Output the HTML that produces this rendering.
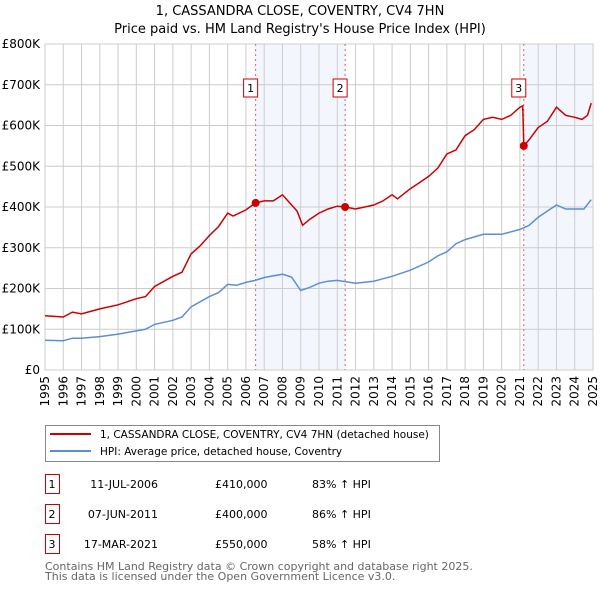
<!DOCTYPE html>
<html><head><meta charset="utf-8"><style>
body{margin:0;background:#fff;font-family:"DejaVu Sans","Liberation Sans",sans-serif;}
svg text{font-family:"DejaVu Sans","Liberation Sans",sans-serif;}
</style></head><body>
<svg id="chart" width="600" height="590" xmlns="http://www.w3.org/2000/svg">
<text x="300" y="15" text-anchor="middle" font-size="13">1, CASSANDRA CLOSE, COVENTRY, CV4 7HN</text>
<text x="300" y="33" text-anchor="middle" font-size="13">Price paid vs. HM Land Registry's House Price Index (HPI)</text>
<g id="plot"></g>
<g>
<rect x="45.5" y="425.5" width="394" height="36" fill="#fff" stroke="#888"/>
<line x1="50" y1="434" x2="91" y2="434" stroke="#cc0000" stroke-width="2"/>
<text x="100" y="438" font-size="10.5">1, CASSANDRA CLOSE, COVENTRY, CV4 7HN (detached house)</text>
<line x1="50" y1="451" x2="91" y2="451" stroke="#5b8fd4" stroke-width="2"/>
<text x="100" y="455" font-size="10.5">HPI: Average price, detached house, Coventry</text>
</g>
<g id="table"></g>
<text x="45" y="570" font-size="11" fill="#666">Contains HM Land Registry data © Crown copyright and database right 2025.</text>
<text x="45" y="580" font-size="11" fill="#666">This data is licensed under the Open Government Licence v3.0.</text>
</svg>
<script>
const redYears=[1995,1996,1996.5,1997,1998,1999,2000,2000.5,2001,2002,2002.5,2003,2003.5,2004,2004.5,2005,2005.3,2006,2006.53,2007,2007.5,2008,2008.3,2008.8,2009.1,2009.5,2010,2010.5,2011,2011.43,2012,2012.5,2013,2013.5,2014,2014.3,2015,2015.5,2016,2016.5,2017,2017.5,2018,2018.5,2019,2019.5,2020,2020.5,2021,2021.15,2021.21,2021.5,2022,2022.5,2023,2023.5,2024,2024.4,2024.7,2024.9];
const redValues=[133,130,142,138,150,160,175,180,205,230,240,285,305,330,352,385,378,393,410,415,415,430,415,390,355,370,385,395,402,400,395,400,405,415,430,420,445,460,475,495,530,540,575,590,615,620,615,625,645,648,550,565,595,610,645,625,620,615,625,655];
const hpiYears=[1995,1996,1996.5,1997,1998,1999,2000,2000.5,2001,2002,2002.5,2003,2004,2004.5,2005,2005.5,2006,2006.5,2007,2008,2008.5,2009,2009.5,2010,2010.5,2011,2012,2013,2014,2015,2016,2016.5,2017,2017.5,2018,2019,2020,2021,2021.5,2022,2022.5,2023,2023.5,2024,2024.5,2024.9];
const hpiValues=[73,72,78,78,82,88,96,100,112,122,130,155,180,190,210,208,215,220,227,235,228,195,203,213,218,220,213,218,230,245,265,280,290,310,320,333,333,345,355,375,390,405,395,395,395,418];
const yTicks=[0,100,200,300,400,500,600,700,800];
const yTickLabels=["£0","£100K","£200K","£300K","£400K","£500K","£600K","£700K","£800K"];
const xTicks=[1995,1996,1997,1998,1999,2000,2001,2002,2003,2004,2005,2006,2007,2008,2009,2010,2011,2012,2013,2014,2015,2016,2017,2018,2019,2020,2021,2022,2023,2024,2025];
const saleYears=[2006.53,2011.43,2021.21];
const saleValues=[410,400,550];
const saleLabels=["1","2","3"];
const saleDates=["11-JUL-2006","07-JUN-2011","17-MAR-2021"];
const salePrices=["£410,000","£400,000","£550,000"];
const saleHpi=["83% ↑ HPI","86% ↑ HPI","58% ↑ HPI"];

const X0=45,X1=593,Y0=370,Y1=44;
const xs=y=>X0+(y-1995)/30*(X1-X0);
const ys=v=>Y0-v/800*(Y0-Y1);
const NS="http://www.w3.org/2000/svg";
const plot=document.getElementById('plot');
function mk(tag,attrs,parent){const e=document.createElementNS(NS,tag);for(const k in attrs)e.setAttribute(k,attrs[k]);(parent||plot).appendChild(e);return e;}

for(let i=0;i<saleYears.length;i+=2){
  const end=i+1<saleYears.length?saleYears[i+1]:2025;
  const r=mk('rect',{x:xs(saleYears[i]),y:Y1,width:xs(end)-xs(saleYears[i]),height:Y0-Y1,fill:'#eef3fc',opacity:0.7});
  
  
}
yTicks.forEach((t,i)=>{
  const l=mk('line',{x1:X0,x2:X1,y1:ys(t),y2:ys(t),stroke:'#ccc','stroke-width':1});
  
  
  const tx=mk('text',{x:X0-5,y:ys(t)+4,'text-anchor':'end','font-size':12});
  
  
  tx.textContent=yTickLabels[i];
});
xTicks.forEach(t=>{
  const l=mk('line',{x1:xs(t),x2:xs(t),y1:Y1,y2:Y0,stroke:'#ccc','stroke-width':1});
  
  
  const tx=mk('text',{x:0,y:0,'text-anchor':'end','font-size':12,transform:`translate(${xs(t)+4},${Y0+6}) rotate(-90)`});
  
  
  tx.textContent=t;
});
mk('rect',{x:X0,y:Y1,width:X1-X0,height:Y0-Y1,fill:'none',stroke:'#ccc'});
saleYears.forEach((y,i)=>{
  const l=mk('line',{x1:xs(y),x2:xs(y),y1:Y1,y2:Y0,stroke:'#e06060','stroke-dasharray':'2,3','stroke-width':1});
  
  
  const b=mk('rect',{x:xs(y)-9-3,y:79,width:14,height:18,fill:'#fff',stroke:'#c00'});
  
  
  const t=mk('text',{x:xs(y)-5,y:92,'text-anchor':'middle','font-size':11});
  
  
  t.textContent=saleLabels[i];
});
function path(xv,yv){return xv.map((x,i)=>(i?'L':'M')+xs(x).toFixed(1)+','+ys(yv[i]).toFixed(1)).join('');}
const hp=mk('path',{d:path(hpiYears,hpiValues),fill:'none',stroke:'#5b8fd4','stroke-width':1.5});


const rp=mk('path',{d:path(redYears,redValues),fill:'none',stroke:'#cc0000','stroke-width':1.5});


saleYears.forEach((y,i)=>{
  const c=mk('circle',{cx:xs(y),cy:ys(saleValues[i]),r:4,fill:'#cc0000'});
  
  
});
const tb=document.getElementById('table');
saleLabels.forEach((s,i)=>{
  const cy=484+i*30;
  const b=mk('rect',{x:45.5,y:cy-9.5,width:14,height:19,fill:'#fff',stroke:'#c00'},tb);
  
  
  const vals=[[52,s,'middle'],[158,saleDates[i],'end'],[215,salePrices[i],'start'],[312,saleHpi[i],'start']];
  vals.forEach(v=>{
    const t=mk('text',{x:v[0],y:cy+4,'text-anchor':v[2],'font-size':11},tb);
    
    
    t.textContent=v[1];
  });
});
</script>
</body></html>
